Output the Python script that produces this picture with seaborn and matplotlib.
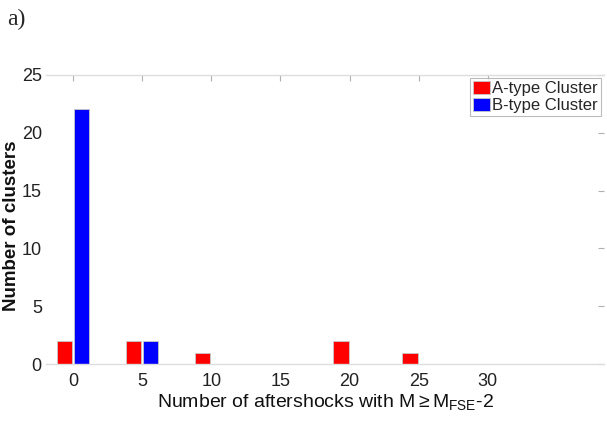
import matplotlib
matplotlib.use("Agg")
import matplotlib.pyplot as plt
import seaborn as sns
import pandas as pd

# Data
bins = [0, 5, 10, 15, 20, 25, 30]
a_counts = [2, 2, 1, 0, 2, 1, 0]
b_counts = [22, 2, 0, 0, 0, 0, 0]
series_names = ["A-type Cluster", "B-type Cluster"]
x_ticks = [0, 5, 10, 15, 20, 25, 30]
y_ticks = [0, 5, 10, 15, 20, 25]

df = pd.DataFrame({
    "bin": bins * 2,
    "count": a_counts + b_counts,
    "type": [series_names[0]] * len(bins) + [series_names[1]] * len(bins),
})

sns.set_theme(style="white")
plt.rcParams["font.family"] = ["Liberation Sans", "DejaVu Sans"]
plt.rcParams["mathtext.fontset"] = "custom"
plt.rcParams["mathtext.rm"] = "Liberation Sans"
plt.rcParams["mathtext.it"] = "Liberation Sans:italic"

fig = plt.figure(figsize=(6.07, 4.22), dpi=100)
ax = fig.add_axes([46 / 607, 1 - 364.3 / 422, (604 - 46) / 607, (364.3 - 74.7) / 422])

sns.barplot(data=df, x="bin", y="count", hue="type", native_scale=True,
            width=0.5, gap=0.12, dodge=True,
            palette={series_names[0]: "#ff0000", series_names[1]: "#0000ff"},
            edgecolor="#c8c8c8", linewidth=0.6, saturation=1, ax=ax)

ax.set_xlim(-1.95, 38.4)
ax.set_ylim(0, 25)
ax.set_xticks(x_ticks)
ax.set_yticks(y_ticks)
ax.tick_params(axis="both", direction="in", length=4, width=0.8, color="#b0b0b0",
               labelsize=13, labelcolor="#222222", top=True, right=True)
ax.tick_params(axis="y", pad=3)
ax.tick_params(axis="x", pad=6)

for s in ["left", "right"]:
    ax.spines[s].set_visible(False)
for s in ["top", "bottom"]:
    ax.spines[s].set_color("#dddddd")
    ax.spines[s].set_linewidth(1.0)

ax.set_xlabel(r"Number of aftershocks with M$\geq$M$_{\mathrm{FSE}}$-2", fontsize=14, color="#111111", labelpad=2)
ax.set_ylabel("Number of clusters", fontsize=13.5, fontweight="bold", color="#111111")
ax.yaxis.set_label_coords(-26 / 558, 0.478)

leg = ax.legend(loc="upper right", bbox_to_anchor=(0.995, 0.99), fontsize=12,
                frameon=True, fancybox=False, edgecolor="#aaaaaa",
                handlelength=1.0, handleheight=0.8, handletextpad=0.15,
                borderpad=0.2, labelspacing=0.1, borderaxespad=0.0)
leg.get_frame().set_linewidth(0.8)
leg.set_title(None)

fig.text(7 / 607, 1 - 19 / 422, "a)", fontsize=17, family="Liberation Serif", va="center", ha="left")

fig.savefig("out.png", dpi=100)
